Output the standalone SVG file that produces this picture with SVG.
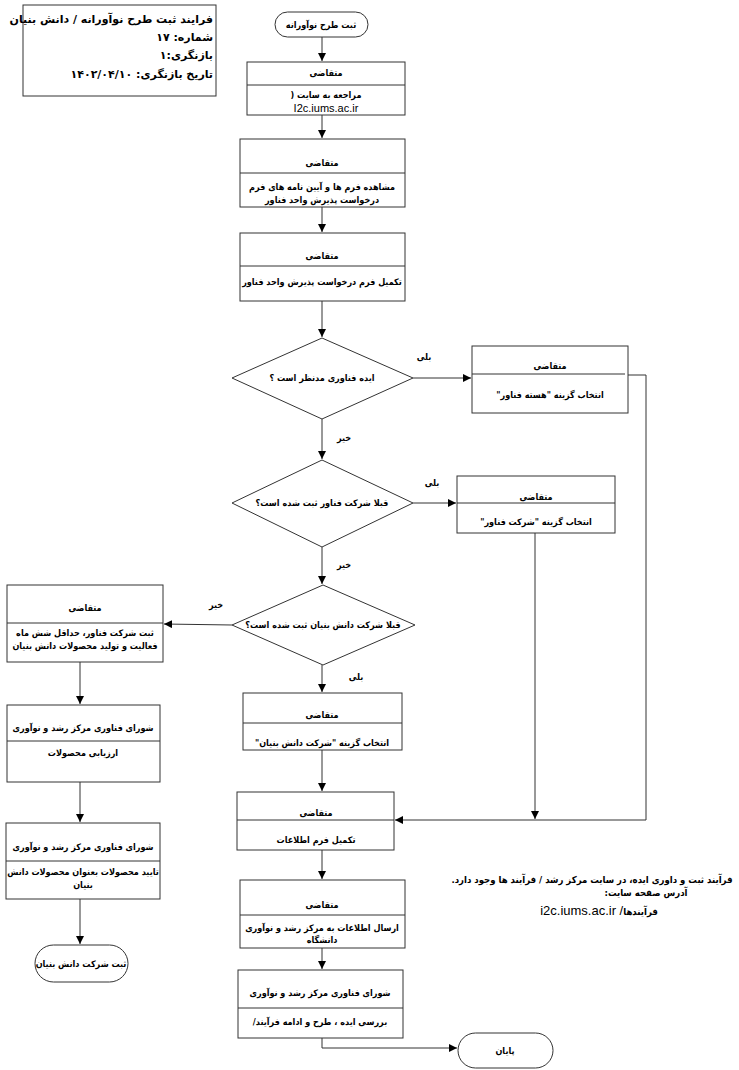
<svg xmlns="http://www.w3.org/2000/svg" width="739" height="1070" viewBox="0 0 739 1070">
<style>
.bx{fill:#fff;stroke:#333;stroke-width:1}
.dv{stroke:#333;stroke-width:1}
.ln{fill:none;stroke:#333;stroke-width:1}
.ar{fill:none;stroke:#333;stroke-width:1;marker-end:url(#ah)}
text{font-family:"DejaVu Sans Condensed","DejaVu Sans",sans-serif;font-weight:bold;fill:#000}
.t{font-size:9px;text-anchor:middle;direction:rtl}
.h{font-size:11px;text-anchor:start;direction:rtl;font-family:"DejaVu Sans",sans-serif}
.u{font-size:11px;font-weight:normal;text-anchor:middle;font-family:"Liberation Sans",Arial,sans-serif}
.n{font-size:9px;text-anchor:middle;direction:rtl}
</style>
<defs>
<marker id="ah" viewBox="0 0 10 10" refX="10" refY="5" markerWidth="8" markerHeight="8" markerUnits="userSpaceOnUse" orient="auto">
<path d="M0,0 L10,5 L0,10 z" fill="#000"/>
</marker>
</defs>
<rect width="739" height="1070" fill="#fff"/>

<g id="header">
<rect class="bx" x="23" y="5" width="193" height="91"/>
<text class="h" x="213" y="23">فرایند  ثبت طرح نوآورانه / دانش بنیان</text>
<text class="h" x="213" y="41">شماره: ۱۷</text>
<text class="h" x="213" y="59">بازنگری:۱</text>
<text class="h" x="213" y="78">تاریخ بازنگری: ۱۴۰۲/۰۴/۱۰</text>
</g>

<g id="start">
<rect class="bx" x="275" y="12" width="93" height="25" rx="12.5"/>
<text class="t" x="321" y="28">ثبت طرح نوآورانه</text>
</g>

<g id="box1">
<rect class="bx" x="247" y="62" width="158" height="53"/>
<line class="dv" x1="247" y1="85" x2="405" y2="85"/>
<text class="t" x="326" y="76">متقاضی</text>
<text class="t" x="326" y="98">مراجعه به سایت (</text>
<text class="u" x="326" y="112">I2c.iums.ac.ir</text>
</g>

<g id="box2">
<rect class="bx" x="240" y="139" width="165" height="68"/>
<line class="dv" x1="240" y1="173" x2="405" y2="173"/>
<text class="t" x="322" y="166">متقاضی</text>
<text class="t" x="322" y="190">مشاهده فرم ها و آیین نامه های فرم</text>
<text class="t" x="322" y="203">درخواست پذیرش واحد فناور</text>
</g>

<g id="box3">
<rect class="bx" x="240" y="233" width="165" height="68"/>
<line class="dv" x1="240" y1="266" x2="405" y2="266"/>
<text class="t" x="322" y="259">متقاضی</text>
<text class="t" x="322" y="285">تکمیل فرم درخواست پذیرش واحد فناور</text>
</g>

<g id="d1">
<polygon class="bx" points="322,338 413,378 322,419 232,378"/>
<text class="t" x="322" y="381">ایده فناوری مدنظر است ؟</text>
</g>

<g id="boxHaste">
<rect class="bx" x="472" y="346" width="156" height="67"/>
<line class="dv" x1="472" y1="374" x2="625" y2="374"/>
<text class="t" x="550" y="369">متقاضی</text>
<text class="t" x="550" y="398">انتخاب گزینه "هسته فناور"</text>
</g>

<g id="d2">
<polygon class="bx" points="322,460 413,503 322,547 232,503"/>
<text class="t" x="322" y="506">قبلا شرکت فناور ثبت شده است؟</text>
</g>

<g id="boxFanavar">
<rect class="bx" x="457" y="476" width="158" height="57"/>
<line class="dv" x1="457" y1="503" x2="615" y2="503"/>
<text class="t" x="536" y="500">متقاضی</text>
<text class="t" x="536" y="525">انتخاب گزینه "شرکت فناور"</text>
</g>

<g id="d3">
<polygon class="bx" points="323,585 415,625 323,665 232,625"/>
<text class="t" x="323" y="628">قبلا شرکت دانش بنیان ثبت شده است؟</text>
</g>

<g id="boxLeft1">
<rect class="bx" x="7" y="585" width="156" height="77"/>
<line class="dv" x1="7" y1="623" x2="163" y2="623"/>
<text class="t" x="85" y="611">متقاضی</text>
<text class="t" x="85" y="636">ثبت شرکت فناور، حداقل شش ماه</text>
<text class="t" x="85" y="649">فعالیت و تولید محصولات دانش بنیان</text>
</g>

<g id="boxLeft2">
<rect class="bx" x="7" y="705" width="153" height="77"/>
<line class="dv" x1="7" y1="741" x2="160" y2="741"/>
<text class="t" x="83" y="731">شورای فناوری مرکز رشد و نوآوری</text>
<text class="t" x="83" y="756">ارزیابی محصولات</text>
</g>

<g id="boxLeft3">
<rect class="bx" x="6" y="823" width="154" height="76"/>
<line class="dv" x1="6" y1="861" x2="160" y2="861"/>
<text class="t" x="83" y="850">شورای فناوری مرکز رشد و نوآوری</text>
<text class="t" x="83" y="875">تایید محصولات بعنوان محصولات دانش</text>
<text class="t" x="83" y="888">بنیان</text>
</g>

<g id="endLeft">
<rect class="bx" x="35" y="945" width="93" height="37" rx="18.5"/>
<text class="t" x="81" y="967">ثبت شرکت دانش بنیان</text>
</g>

<g id="boxDanesh">
<rect class="bx" x="243" y="693" width="159" height="57"/>
<line class="dv" x1="243" y1="723" x2="402" y2="723"/>
<text class="t" x="322" y="718">متقاضی</text>
<text class="t" x="322" y="746">انتخاب گزینه "شرکت دانش بنیان"</text>
</g>

<g id="boxForm">
<rect class="bx" x="237" y="792" width="157" height="58"/>
<line class="dv" x1="237" y1="820" x2="394" y2="820"/>
<text class="t" x="316" y="816">متقاضی</text>
<text class="t" x="316" y="843">تکمیل فرم اطلاعات</text>
</g>

<g id="boxSend">
<rect class="bx" x="240" y="880" width="165" height="68"/>
<line class="dv" x1="240" y1="915" x2="405" y2="915"/>
<text class="t" x="322" y="908">متقاضی</text>
<text class="t" x="322" y="931">ارسال اطلاعات به مرکز رشد و نوآوری</text>
<text class="t" x="322" y="943">دانشگاه</text>
</g>

<g id="boxShura">
<rect class="bx" x="238" y="970" width="165" height="68"/>
<line class="dv" x1="238" y1="1008" x2="403" y2="1008"/>
<text class="t" x="320" y="996">شورای فناوری مرکز رشد و نوآوری</text>
<text class="t" x="320" y="1025">بررسی ایده ، طرح و ادامه فرآیند/</text>
</g>

<g id="end">
<rect class="bx" x="458" y="1033" width="95" height="35" rx="17.5"/>
<text class="t" x="505" y="1054">پایان</text>
</g>

<g id="note">
<text class="n" x="592" y="883" style="font-size:9.5px">فرآیند ثبت و داوری ایده، در سایت مرکز رشد / فرآیند ها وجود دارد.</text>
<text class="n" x="646" y="896" style="font-size:9.5px">آدرس صفحه سایت:</text>
<text x="599" y="915" style="font-size:13px;text-anchor:middle;direction:ltr;font-weight:normal;font-family:'Liberation Sans',sans-serif">i2c.iums.ac.ir /<tspan style="font-weight:bold;font-size:9.5px;font-family:'DejaVu Sans Condensed','DejaVu Sans',sans-serif">فرآیندها</tspan></text>
</g>

<g id="connectors">
<line class="ar" x1="322" y1="37" x2="322" y2="61"/>
<line class="ar" x1="322" y1="115" x2="322" y2="138"/>
<line class="ar" x1="322" y1="207" x2="322" y2="232"/>
<line class="ar" x1="322" y1="301" x2="322" y2="337"/>
<line class="ar" x1="413" y1="378" x2="471" y2="378"/>
<line class="ar" x1="322" y1="419" x2="322" y2="459"/>
<line class="ar" x1="413" y1="503" x2="456" y2="503"/>
<line class="ar" x1="322" y1="547" x2="322" y2="584"/>
<line class="ar" x1="232" y1="625" x2="164" y2="624"/>
<line class="ar" x1="322" y1="665" x2="322" y2="692"/>
<line class="ar" x1="322" y1="750" x2="322" y2="791"/>
<polyline class="ar" points="628,375 646,375 646,820 395,820"/>
<line class="ar" x1="535" y1="533" x2="535" y2="819"/>
<line class="ar" x1="80" y1="662" x2="80" y2="704"/>
<line class="ar" x1="80" y1="782" x2="80" y2="822"/>
<line class="ar" x1="80" y1="899" x2="80" y2="944"/>
<line class="ar" x1="322" y1="850" x2="322" y2="879"/>
<line class="ar" x1="322" y1="948" x2="322" y2="969"/>
<polyline class="ar" points="322,1038 322,1048 457,1048"/>
<text class="n" x="424" y="360">بلی</text>
<text class="n" x="344" y="441">خیر</text>
<text class="n" x="432" y="486">بلی</text>
<text class="n" x="344" y="568">خیر</text>
<text class="n" x="216" y="608">خیر</text>
<text class="n" x="356" y="680">بلی</text>
</g>
</svg>
